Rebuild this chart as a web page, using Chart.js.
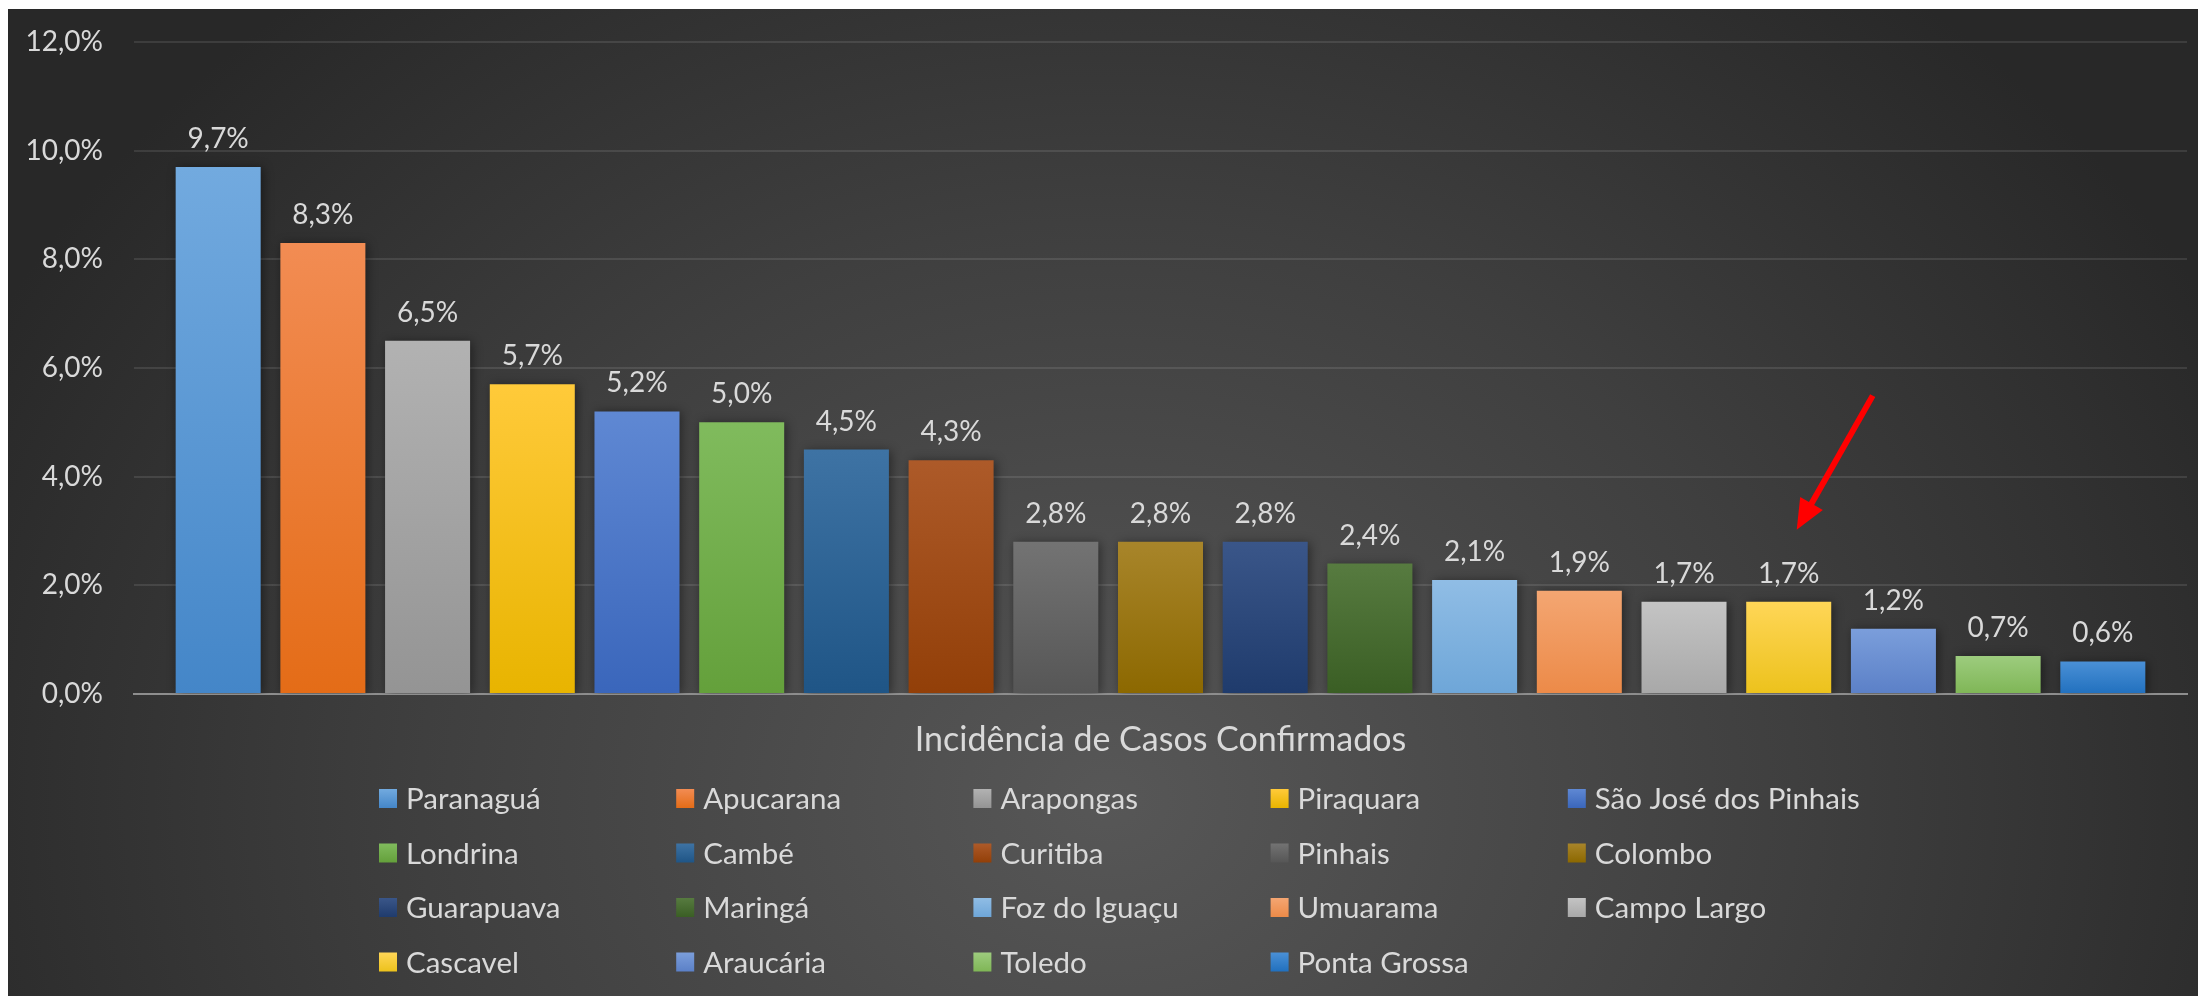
<!DOCTYPE html>
<html>
<head>
<meta charset="utf-8">
<script src="https://cdn.jsdelivr.net/npm/chart.js@4.4.1/dist/chart.umd.min.js"></script>
<style>
html,body{margin:0;padding:0;background:#fff;}
#quadro{position:absolute;left:8px;top:9px;width:2190px;height:987px;
  background:radial-gradient(ellipse 1250px 1050px at 1100px 790px,#575757 0%,#3f3f3f 55%,#282828 100%);}
canvas{display:block;}
</style>
</head>
<body>
<div id="quadro"><canvas id="grafico" width="2190" height="987"></canvas></div>
<script>
// dados
var categoria = ["Incidência de Casos Confirmados"];
var municipios = ["Paranaguá","Apucarana","Arapongas","Piraquara","São José dos Pinhais",
  "Londrina","Cambé","Curitiba","Pinhais","Colombo",
  "Guarapuava","Maringá","Foz do Iguaçu","Umuarama","Campo Largo",
  "Cascavel","Araucária","Toledo","Ponta Grossa"];
var incidencia = [9.7,8.3,6.5,5.7,5.2,5.0,4.5,4.3,2.8,2.8,2.8,2.4,2.1,1.9,1.7,1.7,1.2,0.7,0.6];
var marcasY = [0,2,4,6,8,10,12];

// cores (topo / base do degradê de cada barra)
var coresTopo = ["#72aadf","#f28c53","#b2b2b2","#ffca3a","#5f88d3","#80bb5d","#3e73a4","#ad5a29","#737373","#a8852a",
  "#3a5689","#577b40","#90bde5","#f4a672","#c4c4c4","#ffd657","#7b9edb","#9dcc7e","#4a90d6"];
var coresBase = ["#4486c8","#e46c17","#949494","#e8b400","#3a66bb","#64a03b","#1f5586","#923f08","#565656","#8c6800",
  "#1f3b6c","#3a5e24","#6ea6d8","#ec8a48","#a8a8a8","#ecc21c","#5b80c7","#7fb656","#2170be"];

var fonte = "Lato";
var corTexto = "#d9d9d9";

function pct(v){ return v.toFixed(1).replace('.', ',') + '%'; }

function degrade(i){
  return function(ctx){
    var chart = ctx.chart;
    if (!chart.chartArea || ctx.raw === undefined) return coresTopo[i];
    var y = chart.scales.y;
    var y0 = y.getPixelForValue(ctx.raw), y1 = y.getPixelForValue(0);
    if (y1 - y0 < 1) return coresTopo[i];
    var g = chart.ctx.createLinearGradient(0, y0, 0, y1);
    g.addColorStop(0, coresTopo[i]);
    g.addColorStop(1, coresBase[i]);
    return g;
  };
}

var conjuntos = municipios.map(function(m, i){
  return {
    label: m,
    data: [incidencia[i]],
    backgroundColor: degrade(i),
    borderWidth: 0
  };
});

var rotulosPlugin = {
  id: 'rotulos',
  beforeDatasetsDraw: function(chart){
    var c = chart.ctx;
    c.save();
    c.shadowColor = 'rgba(0,0,0,0.45)';
    c.shadowBlur = 10;
    c.shadowOffsetX = 2;
    c.shadowOffsetY = 1;
  },
  afterDatasetsDraw: function(chart){
    var c = chart.ctx;
    c.restore();
    c.save();
    c.font = '28px ' + fonte;
    c.fillStyle = corTexto;
    c.textAlign = 'center';
    c.textBaseline = 'alphabetic';
    chart.data.datasets.forEach(function(ds, i){
      var el = chart.getDatasetMeta(i).data[0];
      c.fillText(pct(ds.data[0]), el.x, el.y - 19);
    });
    c.restore();
  }
};

var legendaPlugin = {
  id: 'legendaGrade',
  afterDraw: function(chart){
    var c = chart.ctx;
    var x0 = 371, y0 = 780, colW = 297.2, rowH = 54.5, caixa = 19;
    c.save();
    c.font = '29.5px ' + fonte;
    c.textAlign = 'left';
    c.textBaseline = 'middle';
    chart.data.datasets.forEach(function(ds, i){
      var col = i % 5, row = Math.floor(i / 5);
      var x = x0 + col * colW, y = y0 + row * rowH;
      var g = c.createLinearGradient(0, y, 0, y + caixa);
      g.addColorStop(0, coresTopo[i]);
      g.addColorStop(1, coresBase[i]);
      c.fillStyle = g;
      c.fillRect(x, y, 18, caixa);
      c.fillStyle = corTexto;
      c.fillText(ds.label, x + 27, y + caixa / 2 + 1);
    });
    c.restore();
  }
};

var setaPlugin = {
  id: 'seta',
  afterDraw: function(chart){
    var el = chart.getDatasetMeta(municipios.indexOf("Cascavel")).data[0];
    var c = chart.ctx;
    var tx = el.x + 8, ty = el.y - 72;     // ponta
    var sx = el.x + 84, sy = el.y - 206;   // cauda
    var dx = tx - sx, dy = ty - sy, len = Math.sqrt(dx*dx + dy*dy);
    var ux = dx / len, uy = dy / len, px = -uy, py = ux;
    var cab = 30, larg = 13;
    var bx = tx - ux * cab, by = ty - uy * cab;
    c.save();
    c.strokeStyle = '#ff0000';
    c.fillStyle = '#ff0000';
    c.lineWidth = 6;
    c.beginPath();
    c.moveTo(sx, sy);
    c.lineTo(bx + ux * 4, by + uy * 4);
    c.stroke();
    c.beginPath();
    c.moveTo(tx, ty);
    c.lineTo(bx + px * larg, by + py * larg);
    c.lineTo(bx - px * larg, by - py * larg);
    c.closePath();
    c.fill();
    c.restore();
  }
};

function desenhar(){
  new Chart(document.getElementById('grafico'), {
    type: 'bar',
    data: { labels: categoria, datasets: conjuntos },
    options: {
      responsive: false,
      animation: false,
      devicePixelRatio: 1,
      datasets: { bar: { categoryPercentage: 0.969, barPercentage: 0.812 } },
      layout: { padding: { top: 33, right: 11, left: 0, bottom: 0 } },
      plugins: { legend: { display: false }, tooltip: { enabled: false } },
      scales: {
        x: {
          z: 1,
          grid: { display: false },
          border: { display: true, color: '#8e8e8e', width: 2 },
          ticks: { color: corTexto, font: { family: fonte, size: 34 }, padding: 18 },
          afterFit: function(s){ s.height = 302; s.paddingLeft = 0; s.paddingRight = 0; }
        },
        y: {
          min: marcasY[0],
          max: marcasY[marcasY.length - 1],
          afterBuildTicks: function(s){ s.ticks = marcasY.map(function(v){ return { value: v }; }); },
          grid: {
            drawTicks: false,
            lineWidth: 2,
            color: function(ctx){ return ctx.tick && ctx.tick.value === 0 ? 'rgba(0,0,0,0)' : 'rgba(255,255,255,0.1)'; }
          },
          border: { display: false },
          ticks: { color: corTexto, font: { family: fonte, size: 28 }, padding: 31,
            callback: function(v){ return pct(v); } },
          afterFit: function(s){ s.width = 126; s.paddingTop = 0; s.paddingBottom = 0; }
        }
      }
    },
    plugins: [rotulosPlugin, legendaPlugin, setaPlugin]
  });
}

if (document.fonts && document.fonts.load) {
  document.fonts.load('28px ' + fonte).then(desenhar, desenhar);
} else {
  desenhar();
}
</script>
</body>
</html>
